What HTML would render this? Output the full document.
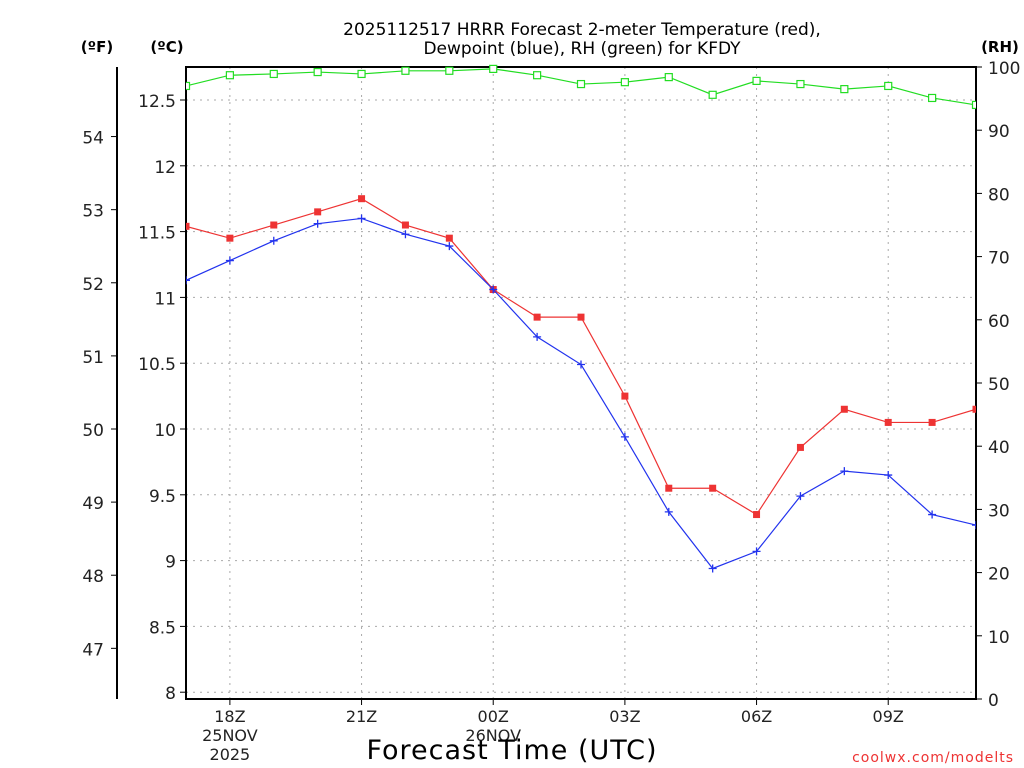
<!DOCTYPE html>
<html><head><meta charset="utf-8"><style>
body{margin:0;background:#fff;width:1024px;height:768px;overflow:hidden}
svg{display:block;font-family:"DejaVu Sans","Liberation Sans",sans-serif}
</style></head><body>
<svg id="c" width="1024" height="768"></svg>
<script>
const hours=[17,18,19,20,21,22,23,0,1,2,3,4,5,6,7,8,9,10,11];
const tempC=[11.54,11.45,11.55,11.65,11.75,11.55,11.45,11.06,10.85,10.85,10.25,9.55,9.55,9.35,9.86,10.15,10.05,10.05,10.15];
const dewC=[11.13,11.28,11.43,11.56,11.60,11.48,11.39,11.06,10.70,10.49,9.94,9.37,8.94,9.07,9.49,9.68,9.65,9.35,9.27];
const rh=[97.0,98.7,98.9,99.2,98.9,99.4,99.4,99.7,98.7,97.3,97.6,98.4,95.6,97.8,97.3,96.5,97.0,95.1,94.0];
const cTicks=[8,8.5,9,9.5,10,10.5,11,11.5,12,12.5];
const fTicks=[47,48,49,50,51,52,53,54];
const rhTicks=[0,10,20,30,40,50,60,70,80,90,100];
const xTickLabels=["18Z","21Z","00Z","03Z","06Z","09Z"];

const L=186,R=976,T=67,B=699;
const x=i=>L+i*(R-L)/(hours.length-1);
const yC=c=>100+(12.5-c)*131.6;
const yF=f=>yC((f-32)*5/9);
const yR=v=>B-v*(B-T)/100;
const svg=document.getElementById('c');
const NS='http://www.w3.org/2000/svg';
function el(t,a,txt){const e=document.createElementNS(NS,t);for(const k in a)e.setAttribute(k,a[k]);if(txt!=null)e.textContent=txt;svg.appendChild(e);return e;}

let e=el('text',{x:582,y:35,'text-anchor':'middle','font-size':17},'2025112517 HRRR Forecast 2-meter Temperature (red),');

e=el('text',{x:582,y:54,'text-anchor':'middle','font-size':17},'Dewpoint (blue), RH (green) for KFDY');

e=el('text',{x:97,y:52,'text-anchor':'middle','font-size':15,'font-weight':'bold'},'(ºF)');

e=el('text',{x:167,y:52,'text-anchor':'middle','font-size':15,'font-weight':'bold'},'(ºC)');

e=el('text',{x:1000,y:52,'text-anchor':'middle','font-size':15,'font-weight':'bold'},'(RH)');


cTicks.forEach(c=>{const y=yC(c);
 e=el('line',{x1:L,x2:R,y1:y,y2:y,stroke:'#aaa','stroke-dasharray':'2,5'});
 
 el('line',{x1:L-6,x2:L,y1:y,y2:y,stroke:'#000'});
 e=el('text',{x:L-10,y:y+7,'text-anchor':'end','font-size':17,fill:'#222'},String(c));
 
});
xTickLabels.forEach((lab,k)=>{const xx=x(1+k*3);
 e=el('line',{x1:xx,x2:xx,y1:T,y2:B,stroke:'#aaa','stroke-dasharray':'2,5'});
 
 el('line',{x1:xx,x2:xx,y1:B,y2:B+6,stroke:'#000'});
 e=el('text',{x:xx,y:722,'text-anchor':'middle','font-size':16,fill:'#222'},lab);
 
});
[[x(1),'25NOV','2025'],[x(7),'26NOV','']].forEach(d=>{
 e=el('text',{x:d[0],y:741,'text-anchor':'middle','font-size':16,fill:'#222'},d[1]);
 
 if(d[2]){e=el('text',{x:d[0],y:760,'text-anchor':'middle','font-size':16,fill:'#222'},d[2]);
 }
});
e=el('text',{x:512,y:759,'text-anchor':'middle','font-size':27,'letter-spacing':'1'},'Forecast Time (UTC)');

e=el('text',{x:1014,y:762,'text-anchor':'end','font-size':14,fill:'#e33','letter-spacing':'1'},'coolwx.com/modelts');


e=el('line',{x1:117,x2:117,y1:T,y2:B,stroke:'#000','stroke-width':2});

fTicks.forEach(f=>{const y=yF(f);
 el('line',{x1:111,x2:117,y1:y,y2:y,stroke:'#000'});
 e=el('text',{x:104,y:y+7,'text-anchor':'end','font-size':17,fill:'#222'},String(f));
 
});
rhTicks.forEach(v=>{const y=yR(v);
 el('line',{x1:R,x2:R+6,y1:y,y2:y,stroke:'#000'});
 e=el('text',{x:R+12,y:y+7,'font-size':17,fill:'#222'},String(v));
 
});
e=el('rect',{x:L,y:T,width:R-L,height:B-T,fill:'none',stroke:'#000','stroke-width':2});


const cp=document.createElementNS(NS,'clipPath');cp.setAttribute('id','cp');svg.appendChild(cp);
const cr=document.createElementNS(NS,'rect');
cr.setAttribute('x',L);cr.setAttribute('y',T-6);cr.setAttribute('width',R-L);cr.setAttribute('height',B-T+6);cp.appendChild(cr);

function series(vals,fy,color,name,marker){
 const g=el('g',{'clip-path':'url(#cp)'});
 
 
 const p=document.createElementNS(NS,'polyline');
 p.setAttribute('points',vals.map((v,i)=>x(i)+','+fy(v)).join(' '));
 p.setAttribute('fill','none');p.setAttribute('stroke',color);p.setAttribute('stroke-width',1.2);
 g.appendChild(p);
 vals.forEach((v,i)=>{const cx=x(i),cy=fy(v);let m;
  if(marker==='fill'){m=document.createElementNS(NS,'rect');m.setAttribute('x',cx-3.5);m.setAttribute('y',cy-3.5);m.setAttribute('width',7);m.setAttribute('height',7);m.setAttribute('fill',color);}
  else if(marker==='open'){m=document.createElementNS(NS,'rect');m.setAttribute('x',cx-3.5);m.setAttribute('y',cy-3.5);m.setAttribute('width',7);m.setAttribute('height',7);m.setAttribute('fill','#fff');m.setAttribute('stroke',color);m.setAttribute('stroke-width',1.2);}
  else{m=document.createElementNS(NS,'path');m.setAttribute('d',`M${cx-4},${cy}H${cx+4}M${cx},${cy-4}V${cy+4}`);m.setAttribute('stroke',color);m.setAttribute('stroke-width',1.3);}
  
  
  g.appendChild(m);});
}
series(rh,yR,'#22dd22','rh-series','open');
series(tempC,yC,'#ee3333','temperature-series','fill');
series(dewC,yC,'#2233ee','dewpoint-series','plus');
</script>
</body></html>
